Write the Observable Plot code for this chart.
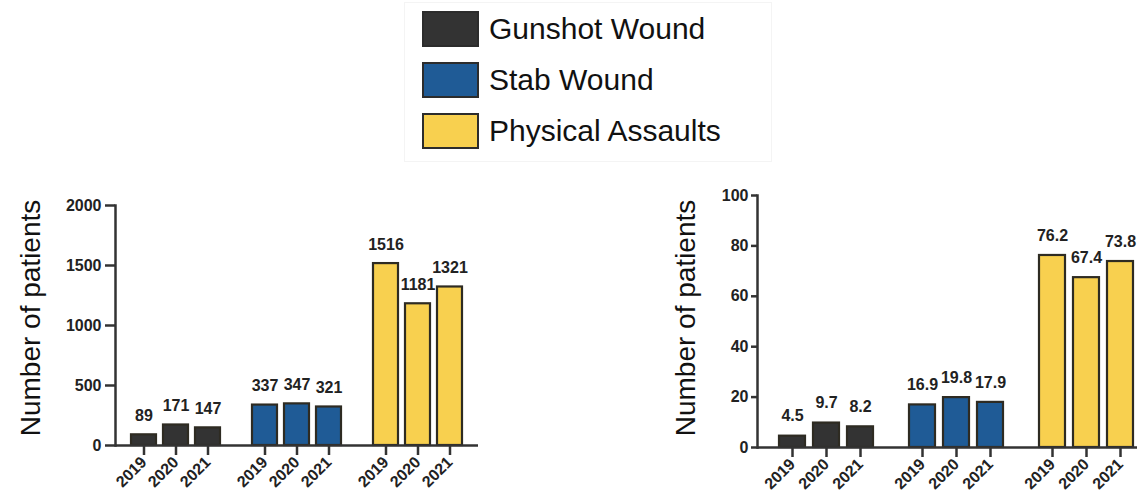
<!DOCTYPE html>
<html>
<head>
<meta charset="utf-8">
<script src="https://cdn.jsdelivr.net/npm/d3@7"></script>
<script src="https://cdn.jsdelivr.net/npm/@observablehq/plot@0.6"></script>
<style>
  html, body { margin: 0; padding: 0; background: #fff; }
  body { width: 1137px; height: 502px; overflow: hidden; position: relative; font-family: "Liberation Sans", Arial, sans-serif; }
  .panel { position: absolute; top: 180px; }
  .panel svg { max-width: none !important; }
  .ylab { position: absolute; font-size: 28px; color: #111; white-space: nowrap; transform: translate(-50%, -50%) rotate(-90deg); }
  #legend { position: absolute; left: 404px; top: 2px; width: 366px; height: 158px; border: 1px solid #f4f4f4; }
  .item { position: absolute; left: 17px; height: 36px; display: flex; align-items: center; }
  .sw { width: 53px; height: 32px; border: 2px solid #2c2c2c; margin-right: 10px; }
  .lt { font-size: 30px; color: #111; }
</style>
</head>
<body>
<div id="legend"></div>
<div class="ylab" style="left:31px; top:318px;">Number of patients</div>
<div class="ylab" style="left:686px; top:318px;">Number of patients</div>
<div id="left" class="panel" style="left:0px; width:490px;"></div>
<div id="right" class="panel" style="left:660px; width:497px;"></div>
<script>
// ---- data ----
const groups = ["Gunshot Wound", "Stab Wound", "Physical Assaults"];
const years = ["2019", "2020", "2021"];
const colors = ["#333333", "#1f5b96", "#f8d04f"];

const countGunshot = [89, 171, 147];
const countStab = [337, 347, 321];
const countPhysical = [1516, 1181, 1321];

const pctGunshot = [4.5, 9.7, 8.2];
const pctStab = [16.9, 19.8, 17.9];
const pctPhysical = [76.2, 67.4, 73.8];

const countTicks = [0, 500, 1000, 1500, 2000];
const pctTicks = [0, 20, 40, 60, 80, 100];

function toRows(series) {
  const rows = [];
  groups.forEach((g, gi) => years.forEach((y, yi) => rows.push({group: g, year: y, value: series[gi][yi]})));
  return rows;
}
const countRows = toRows([countGunshot, countStab, countPhysical]);
const pctRows = toRows([pctGunshot, pctStab, pctPhysical]);

// ---- legend ----
const legend = document.getElementById("legend");
groups.forEach((g, i) => {
  const it = document.createElement("div");
  it.className = "item";
  it.style.top = (8 + i * 51) + "px";
  const sw = document.createElement("div");
  sw.className = "sw";
  sw.style.background = colors[i];
  const t = document.createElement("span");
  t.className = "lt";
  t.textContent = g;
  it.appendChild(sw); it.appendChild(t);
  legend.appendChild(it);
});

const font = "'Liberation Sans', Arial, sans-serif";

function chart(rows, o) {
  const svg = Plot.plot({
    width: o.width,
    height: 322,
    marginLeft: o.ml,
    marginRight: o.mr,
    marginTop: o.mt,
    marginBottom: o.mb,
    style: {fontFamily: font, background: "transparent", color: "#222", overflow: "visible"},
    fx: {domain: groups, padding: 0, axis: null},
    x: {domain: years, paddingInner: o.pi, paddingOuter: o.po, align: o.align},
    y: {domain: o.domain},
    color: {domain: groups, range: colors},
    marks: [
      Plot.barY(rows, {fx: "group", x: "year", y: "value", fill: "group", stroke: "#2e2b22", strokeWidth: 2.2}),
      Plot.text(rows, {fx: "group", x: "year", y: "value", text: d => o.fmt(d.value), dy: o.dy,
        fontSize: 16, fontWeight: "bold", fill: "#222"}),
      Plot.ruleY([0], {stroke: "#333", strokeWidth: 2.5}),
      Plot.frame({anchor: "left", fx: groups[0], stroke: "#333", strokeWidth: 2.5}),
      Plot.axisY(o.ticks, {tickSize: o.yts, tickPadding: o.ytp, fontSize: 16, fontWeight: "bold",
        tickFormat: "d", stroke: "#333", strokeWidth: 2.5, label: null, fill: "#222"}),
      Plot.axisX({tickSize: 10, tickPadding: 4, tickRotate: -45, fontSize: 16, fontWeight: "bold",
        stroke: "#333", strokeWidth: 2.5, label: null, fill: "#222"})
    ]
  });
  svg.style.maxWidth = "none";
  return svg;
}

document.getElementById("left").appendChild(chart(countRows, {
  width: 490, ml: 115, mr: 12, mt: 25, mb: 57, pi: 0.22, po: 0.5, align: 0.5,
  domain: [0, 2000], ticks: countTicks, yts: 10, ytp: 4, dy: -19, fmt: d3.format("d")
}));
document.getElementById("right").appendChild(chart(pctRows, {
  width: 497, ml: 97, mr: 10, mt: 15, mb: 55, pi: 0.246, po: 0.507, align: 0.6,
  domain: [0, 100], ticks: pctTicks, yts: 6, ytp: 3, dy: -20, fmt: d3.format(".1f")
}));
</script>
</body>
</html>
